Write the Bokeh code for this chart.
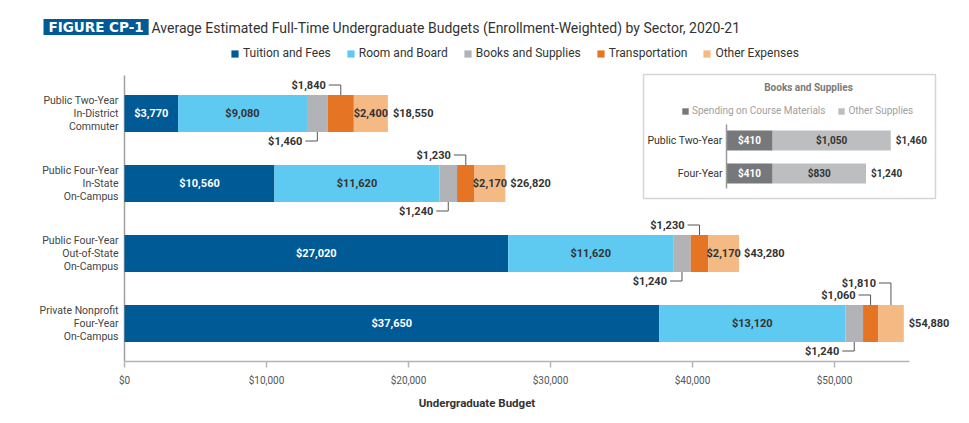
from bokeh.plotting import figure
from bokeh.models import (Range1d, FixedTicker, NumeralTickFormatter, Legend,
                          LegendItem, Label)
from bokeh.core.properties import value
from bokeh.embed import file_html
from bokeh.resources import INLINE

# ---------------- data ----------------
categories = ["Public Two-Year\nIn-District\nCommuter",
              "Public Four-Year\nIn-State\nOn-Campus",
              "Public Four-Year\nOut-of-State\nOn-Campus",
              "Private Nonprofit\nFour-Year\nOn-Campus"]
series_names = ["Tuition and Fees", "Room and Board", "Books and Supplies",
                "Transportation", "Other Expenses"]
tuition = [3770, 10560, 27020, 37650]
room = [9080, 11620, 11620, 13120]
books = [1460, 1240, 1240, 1240]
transport = [1840, 1230, 1230, 1060]
other = [2400, 2170, 2170, 1810]
totals = [18550, 26820, 43280, 54880]
x_ticks = [0, 10000, 20000, 30000, 40000, 50000]
x_axis_max = 55290

inset_cats = ["Public Two-Year", "Four-Year"]
inset_names = ["Spending on Course Materials", "Other Supplies"]
course_materials = [410, 410]
other_supplies = [1050, 830]
inset_totals = [1460, 1240]

title_tag = "FIGURE CP-1"
title_text = ("Average Estimated Full-Time Undergraduate Budgets "
              "(Enrollment-Weighted) by Sector, 2020-21")

# ---------------- styling ----------------
COLORS = ["#005a95", "#5ec9f1", "#b1b3b6", "#e57525", "#f5b983"]
INSET_COLORS = ["#77787b", "#bcbec0"]
DARK = "#333333"
FONT = "Roboto"

W, H = 953, 415
FL, FR, FT, FB = 0, 0, 10, 54
fw = W - FL - FR
fh = H - FT - FB
X0 = 124.0           # page x of $0
PX = 0.0142          # px per dollar (main)
ROW = 70.0           # px per row (main)
R0 = 113.0 - FT      # first row centre below frame top (px)
BAR_H = 37 / ROW

IPX = 0.1125         # px per dollar (inset)
IX0 = 726.0          # inset axis x (px)
IROW = 33.0
IR0 = 140.0 - FT
IBAR_H = 20 / IROW

def dx(px):          # page x -> main data x
    return (px - X0) / PX

def dy(py):          # page y -> main data y
    return (py - FT - R0) / ROW

p = figure(width=W, height=H, output_backend="svg", toolbar_location=None,
           x_range=Range1d(-X0 / PX, (fw - X0) / PX),
           y_range=Range1d((fh - R0) / ROW, -R0 / ROW),
           min_border_left=FL, min_border_right=FR,
           min_border_top=FT, min_border_bottom=FB)
p.outline_line_color = None
p.xgrid.visible = False
p.ygrid.visible = False
p.yaxis.visible = False
p.background_fill_color = "white"
p.border_fill_color = "white"

# x axis
xa = p.xaxis[0]
xa.ticker = FixedTicker(ticks=x_ticks)
xa.formatter = NumeralTickFormatter(format="$0,0")
xa.bounds = (0, x_axis_max)
xa.axis_line_color = "#b5b5b5"
xa.axis_line_width = 1.5
xa.major_tick_line_color = "#b5b5b5"
xa.major_tick_line_width = 1.5
xa.major_tick_in = 0
xa.major_tick_out = 6
xa.minor_tick_line_color = None
xa.major_label_text_font = FONT
xa.major_label_text_font_size = "10px"
xa.major_label_text_color = "#555555"
xa.major_label_standoff = 7
xa.axis_label = "Undergraduate Budget"
xa.axis_label_text_font = FONT
xa.axis_label_text_font_style = "bold"
xa.axis_label_text_font_size = "11.5px"
xa.axis_label_text_color = DARK
xa.axis_label_standoff = 7

ys = list(range(len(categories)))

# category axis line and labels
p.segment(x0=[0], x1=[0], y0=[-0.543], y1=[len(categories) - 1 + 0.543],
          line_color="#a0a0a0", line_width=1.5)
p.text(x=[0] * len(categories), y=ys, text=categories, x_offset=-6,
       text_align="right", text_baseline="middle", text_font=value(FONT),
       text_font_size="10.5px", text_color="#444444", text_line_height=1.0)

# ---------------- main stacked bars ----------------
series = [tuition, room, books, transport, other]
left = [0] * len(categories)
renderers = []
segs = []
for vals, col in zip(series, COLORS):
    right = [l + v for l, v in zip(left, vals)]
    r = p.hbar(y=ys, left=left, right=right, height=BAR_H, fill_color=col,
               line_color=None)
    renderers.append(r)
    segs.append((list(left), right))
    left = right

def txt(x, y, t, color=DARK, align="center", xoff=0, size="11px", bold=True,
        x_range_name="default", y_range_name="default"):
    p.text(x=x, y=y, text=t, text_color=color, text_align=align,
           text_baseline="middle", x_offset=xoff,
           text_font=value(FONT), text_font_size=size,
           text_font_style="bold" if bold else "normal",
           x_range_name=x_range_name, y_range_name=y_range_name)

def money(v):
    return "${:,}".format(v)

# inside labels: tuition, room
for si, color in [(0, "white"), (1, DARK)]:
    l, r = segs[si]
    txt([(a + b) / 2 for a, b in zip(l, r)], ys,
        [money(v) for v in series[si]], color=color)

# leader-line labels
lead_xs, lead_ys = [], []
lab_x, lab_y, lab_t = [], [], []
half = BAR_H / 2
gap1 = 10 / ROW
gap2 = 22 / ROW
hseg = 12 / PX
inside_x, inside_y, inside_t = [], [], []
for i in ys:
    # books below
    l, r = segs[2]
    cx = (l[i] + r[i]) / 2
    yl = i + half + 9 / ROW
    lead_xs.append([cx - hseg, cx, cx]); lead_ys.append([yl, yl, i + half])
    lab_x.append(cx); lab_y.append(yl); lab_t.append(money(books[i]))
    # transportation above
    l, r = segs[3]
    cx = (l[i] + r[i]) / 2
    yl = i - half - gap1
    lead_xs.append([cx - hseg, cx, cx]); lead_ys.append([yl, yl, i - half])
    lab_x.append(cx); lab_y.append(yl); lab_t.append(money(transport[i]))
    # other expenses: inside if it fits, else above (second level)
    l, r = segs[4]
    cx = (l[i] + r[i]) / 2
    if other[i] * PX >= 28:
        inside_x.append(cx); inside_y.append(i); inside_t.append(money(other[i]))
    else:
        yl = i - half - gap2
        lead_xs.append([cx - hseg, cx, cx]); lead_ys.append([yl, yl, i - half])
        lab_x.append(cx); lab_y.append(yl); lab_t.append(money(other[i]))

p.multi_line(xs=lead_xs, ys=lead_ys, line_color="#555555", line_width=1)
txt(lab_x, lab_y, lab_t, align="right", xoff=-15)
txt(inside_x, inside_y, inside_t)
txt(totals, ys, [money(v) for v in totals], align="left", xoff=5)

# ---------------- inset: Books and Supplies ----------------
p.extra_x_ranges = {"ix": Range1d(-IX0 / IPX, (fw - IX0) / IPX)}
p.extra_y_ranges = {"iy": Range1d((fh - IR0) / IROW, -IR0 / IROW)}
IX = dict(x_range_name="ix", y_range_name="iy")

p.quad(left=[-83 / IPX], right=[209 / IPX], top=[-66 / IROW], bottom=[58 / IROW],
       fill_color="white", line_color="#d6d6d6", line_width=1.5, **IX)

iys = list(range(len(inset_cats)))
ileft = [0] * len(inset_cats)
irend = []
iseg = []
for vals, col in zip([course_materials, other_supplies], INSET_COLORS):
    iright = [l + v for l, v in zip(ileft, vals)]
    r = p.hbar(y=iys, left=ileft, right=iright, height=IBAR_H, fill_color=col,
               line_color=None, **IX)
    irend.append(r)
    iseg.append((list(ileft), iright))
    ileft = iright

p.segment(x0=[0], x1=[0], y0=[-0.5 * IBAR_H - 6 / IROW],
          y1=[len(inset_cats) - 1 + 0.5 * IBAR_H + 5 / IROW],
          line_color="#9a9a9a", line_width=1.5, **IX)

txt([(a + b) / 2 for a, b in zip(*iseg[0])], iys,
    [money(v) for v in course_materials], color="white", size="10px", **IX)
txt([(a + b) / 2 for a, b in zip(*iseg[1])], iys,
    [money(v) for v in other_supplies], size="10px", **IX)
txt(inset_totals, iys, [money(v) for v in inset_totals], align="left", xoff=5,
    size="10px", **IX)
txt([0] * len(inset_cats), iys, inset_cats, align="right", xoff=-4,
    size="10.5px", bold=False, **IX)
txt([82 / IPX], [-53 / IROW], ["Books and Supplies"], color="#7a7a7a",
    size="10px", **IX)

inset_legend = Legend(
    items=[LegendItem(label=n, renderers=[r]) for n, r in zip(inset_names, irend)],
    orientation="horizontal", location=(681, 361 - 116), glyph_width=8,
    glyph_height=8, label_standoff=3, spacing=12, padding=0, margin=0,
    border_line_color=None, background_fill_alpha=0, label_text_font=FONT,
    label_text_font_size="10px", label_text_color="#a0a0a0", label_height=10)
p.add_layout(inset_legend)

# ---------------- legend ----------------
legend = Legend(
    items=[LegendItem(label=n, renderers=[r]) for n, r in zip(series_names, renderers)],
    orientation="horizontal", location=(230, 361 - 60), glyph_width=9,
    glyph_height=9, label_standoff=4, spacing=15, padding=0, margin=0,
    border_line_color=None, background_fill_alpha=0, label_text_font=FONT,
    label_text_font_size="12px", label_text_color=DARK, label_height=12)
p.add_layout(legend)

# ---------------- title ----------------
p.add_layout(Label(x=dx(43), y=dy(26.5), text=title_tag,
                   text_align="left", text_baseline="middle",
                   text_font="DejaVu Sans", text_font_style="bold",
                   text_font_size="13.5px", text_color="white",
                   background_fill_color="#005a95",
                   padding=dict(left=5, right=5, top=0, bottom=0)))
p.add_layout(Label(x=dx(151), y=dy(27.5), text=title_text,
                   text_align="left", text_baseline="middle",
                   text_font=FONT, text_font_size="14px", text_color=DARK))

open("out.html", "w").write(file_html(p, INLINE))
